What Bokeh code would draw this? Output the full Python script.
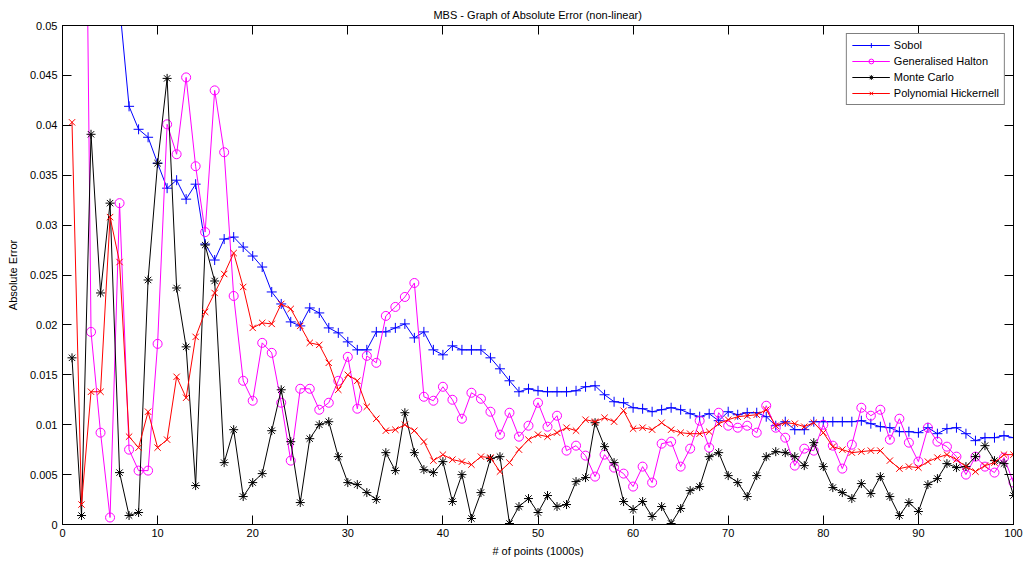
from bokeh.plotting import figure
from bokeh.models import Range1d, FixedTicker, CustomJSTickFormatter, LinearAxis, Legend
from bokeh.embed import file_html
from bokeh.resources import INLINE

# ---------------- data ----------------
points_k = list(range(1, 101))  # # of points (1000s)

sobol = [0.150, 0.110, 0.085, 0.070, 0.060, 0.052, 0.0419, 0.0396, 0.0388, 0.0362,
         0.0337, 0.0345, 0.0326, 0.0341, 0.0281, 0.0265, 0.0286, 0.0288, 0.0278, 0.0269,
         0.0258, 0.0233, 0.0221, 0.0203, 0.0199, 0.0217, 0.0212, 0.0197, 0.0192, 0.0183,
         0.0175, 0.0175, 0.0193, 0.0193, 0.0197, 0.0201, 0.0187, 0.0193, 0.0175, 0.0170,
         0.0179, 0.0175, 0.0175, 0.0175, 0.0167, 0.0156, 0.0144, 0.0133, 0.0136, 0.0134,
         0.0133, 0.0133, 0.0133, 0.0134, 0.0138, 0.0139, 0.0130, 0.0123, 0.0122, 0.0117,
         0.0116, 0.0113, 0.0115, 0.0117, 0.0115, 0.0111, 0.0108, 0.0111, 0.0104, 0.0113,
         0.0110, 0.0112, 0.0112, 0.0108, 0.0099, 0.0103, 0.0095, 0.0095, 0.0103, 0.0103,
         0.0103, 0.0103, 0.0103, 0.0104, 0.0101, 0.0098, 0.0097, 0.0093, 0.0093, 0.0092,
         0.0097, 0.0091, 0.0096, 0.0097, 0.0091, 0.0084, 0.0087, 0.0087, 0.0089, 0.0087]

halton = [0.090, 0.110, 0.0193, 0.0092, 0.0007, 0.0322, 0.0075, 0.0054, 0.0054, 0.0181,
          0.0401, 0.0371, 0.0448, 0.0359, 0.0293, 0.0435, 0.0373, 0.0229, 0.0144, 0.0124,
          0.0182, 0.0172, 0.0122, 0.0064, 0.0136, 0.0136, 0.0115, 0.0122, 0.0144, 0.0168,
          0.0116, 0.0169, 0.0162, 0.0209, 0.0218, 0.0228, 0.0242, 0.0128, 0.0124, 0.0138,
          0.0125, 0.0106, 0.0132, 0.0126, 0.0113, 0.0090, 0.0112, 0.0088, 0.0099, 0.0122,
          0.0098, 0.0109, 0.0074, 0.0079, 0.0069, 0.0048, 0.0070, 0.0057, 0.0051, 0.0038,
          0.0058, 0.0042, 0.0081, 0.0083, 0.0058, 0.0076, 0.0104, 0.0077, 0.0112, 0.0099,
          0.0097, 0.0099, 0.0092, 0.0119, 0.0097, 0.0087, 0.0059, 0.0076, 0.0074, 0.0100,
          0.0079, 0.0056, 0.0080, 0.0117, 0.0109, 0.0115, 0.0085, 0.0106, 0.0082, 0.0063,
          0.0097, 0.0083, 0.0078, 0.0068, 0.0050, 0.0068, 0.0058, 0.0052, 0.0067, 0.0042]

monte_carlo = [0.0167, 0.0009, 0.0391, 0.0232, 0.0322, 0.0052, 0.0009, 0.0012, 0.0245, 0.0362,
               0.0447, 0.0237, 0.0178, 0.0039, 0.0280, 0.0244, 0.0062, 0.0095, 0.0028, 0.0042,
               0.0051, 0.0094, 0.0135, 0.0083, 0.0022, 0.0086, 0.0100, 0.0103, 0.0068, 0.0042,
               0.0040, 0.0032, 0.0025, 0.0072, 0.0054, 0.0112, 0.0072, 0.0055, 0.0052, 0.0063,
               0.0023, 0.0050, 0.0006, 0.0032, 0.0066, 0.0068, 0.0001, 0.0018, 0.0026, 0.0012,
               0.0029, 0.0018, 0.0020, 0.0043, 0.0047, 0.0102, 0.0078, 0.0062, 0.0023, 0.0015,
               0.0023, 0.0008, 0.0018, 0.0001, 0.0016, 0.0034, 0.0038, 0.0068, 0.0072, 0.0049,
               0.0042, 0.0028, 0.0049, 0.0068, 0.0073, 0.0072, 0.0068, 0.0059, 0.0082, 0.0058,
               0.0037, 0.0032, 0.0026, 0.0041, 0.0031, 0.0048, 0.0028, 0.0009, 0.0022, 0.0013,
               0.0040, 0.0046, 0.0061, 0.0057, 0.0058, 0.0068, 0.0079, 0.0064, 0.0061, 0.0029]

hickernell = [0.0403, 0.0020, 0.0133, 0.0133, 0.0308, 0.0263, 0.0088, 0.0077, 0.0113, 0.0077,
              0.0085, 0.0148, 0.0127, 0.0188, 0.0213, 0.0232, 0.0251, 0.0272, 0.0238, 0.0197,
              0.0202, 0.0201, 0.0221, 0.0216, 0.0199, 0.0182, 0.0180, 0.0162, 0.0135, 0.0150,
              0.0144, 0.0118, 0.0106, 0.0094, 0.0095, 0.0100, 0.0094, 0.0083, 0.0064, 0.0070,
              0.0065, 0.0063, 0.0060, 0.0068, 0.0067, 0.0053, 0.0062, 0.0075, 0.0085, 0.0090,
              0.0088, 0.0092, 0.0097, 0.0094, 0.0105, 0.0103, 0.0107, 0.0103, 0.0114, 0.0096,
              0.0097, 0.0095, 0.0102, 0.0095, 0.0092, 0.0091, 0.0091, 0.0093, 0.0101, 0.0105,
              0.0108, 0.0109, 0.0110, 0.0115, 0.0099, 0.0102, 0.0101, 0.0098, 0.0102, 0.0092,
              0.0078, 0.0075, 0.0072, 0.0073, 0.0074, 0.0074, 0.0064, 0.0056, 0.0058, 0.0057,
              0.0063, 0.0067, 0.0070, 0.0065, 0.0058, 0.0053, 0.0059, 0.0062, 0.0070, 0.0070]

x_ticks = [0, 10, 20, 30, 40, 50, 60, 70, 80, 90, 100]
y_ticks = [0, 0.005, 0.01, 0.015, 0.02, 0.025, 0.03, 0.035, 0.04, 0.045, 0.05]

series_names = ["Sobol", "Generalised Halton", "Monte Carlo", "Polynomial Hickernell"]
title_text = "MBS - Graph of Absolute Error (non-linear)"
x_label = "# of points (1000s)"
y_label = "Absolute Error"

# ---------------- figure ----------------
FONT = "Liberation Sans"

p = figure(width=1025, height=564, output_backend="svg", toolbar_location=None,
           x_range=Range1d(0, 100), y_range=Range1d(0, 0.05),
           x_axis_label=x_label, y_axis_label=y_label,
           min_border_left=62, min_border_right=12, min_border_top=25, min_border_bottom=40)
p.background_fill_color = "white"
p.border_fill_color = "white"
p.outline_line_color = "black"
p.outline_line_width = 1
p.xgrid.visible = False
p.ygrid.visible = False

p.title.text = title_text
p.title.align = "center"
p.title.text_font = FONT
p.title.text_font_size = "11px"
p.title.text_font_style = "normal"
p.title.text_color = "black"
p.title.standoff = 9

yfmt = CustomJSTickFormatter(code="var s = tick.toFixed(3); s = s.replace(/0+$/, ''); s = s.replace(/\\.$/, ''); return s;")
blank = "return '';"

for ax in p.xaxis:
    ax.ticker = FixedTicker(ticks=x_ticks)
for ax in p.yaxis:
    ax.ticker = FixedTicker(ticks=y_ticks)
    ax.formatter = yfmt

for ax in list(p.xaxis) + list(p.yaxis):
    ax.major_tick_in = 9
    ax.major_tick_out = 0
    ax.minor_tick_in = 0
    ax.minor_tick_out = 0
    ax.axis_line_color = "black"
    ax.major_tick_line_color = "black"
    ax.major_label_text_font = FONT
    ax.major_label_text_font_size = "11px"
    ax.major_label_text_color = "black"
    ax.axis_label_text_font = FONT
    ax.axis_label_text_font_size = "11px"
    ax.axis_label_text_font_style = "normal"
    ax.axis_label_text_color = "black"

p.xaxis.major_label_standoff = 4
p.xaxis.axis_label_standoff = 5
p.yaxis.major_label_standoff = 5
p.yaxis.axis_label_standoff = 8

# mirror axes (ticks only)
top_ax = LinearAxis(ticker=FixedTicker(ticks=x_ticks), formatter=CustomJSTickFormatter(code=blank),
                    major_tick_in=9, major_tick_out=0, minor_tick_in=0, minor_tick_out=0,
                    major_label_text_font_size="1px", major_label_standoff=0)
right_ax = LinearAxis(ticker=FixedTicker(ticks=y_ticks), formatter=CustomJSTickFormatter(code=blank),
                      major_tick_in=9, major_tick_out=0, minor_tick_in=0, minor_tick_out=0,
                      major_label_text_font_size="1px", major_label_standoff=0)
p.add_layout(top_ax, "above")
p.add_layout(right_ax, "right")

# ---------------- series ----------------
styles = [
    (sobol, "#0000ff", "cross", 10),
    (halton, "#ff00ff", "circle", 9),
    (monte_carlo, "#000000", "asterisk", 9),
    (hickernell, "#ff0000", "x", 9),
]

items = []
for (vals, color, marker, size), name in zip(styles, series_names):
    r1 = p.line(points_k, vals, line_color=color, line_width=1)
    kwargs = dict(marker=marker, size=size, line_color=color, line_width=1)
    if marker == "circle":
        kwargs["fill_color"] = None
    r2 = p.scatter(points_k, vals, **kwargs)
    items.append((name, [r1, r2]))

legend = Legend(items=items, location="top_right")
legend.margin = 8
legend.padding = 5
legend.spacing = 4
legend.label_height = 12
legend.glyph_height = 12
legend.glyph_width = 38
legend.label_standoff = 4
legend.label_text_font = FONT
legend.label_text_font_size = "11px"
legend.label_text_color = "black"
legend.border_line_color = "black"
legend.border_line_width = 1
legend.background_fill_color = "white"
legend.background_fill_alpha = 1
p.add_layout(legend)

open("out.html", "w").write(file_html(p, INLINE))
